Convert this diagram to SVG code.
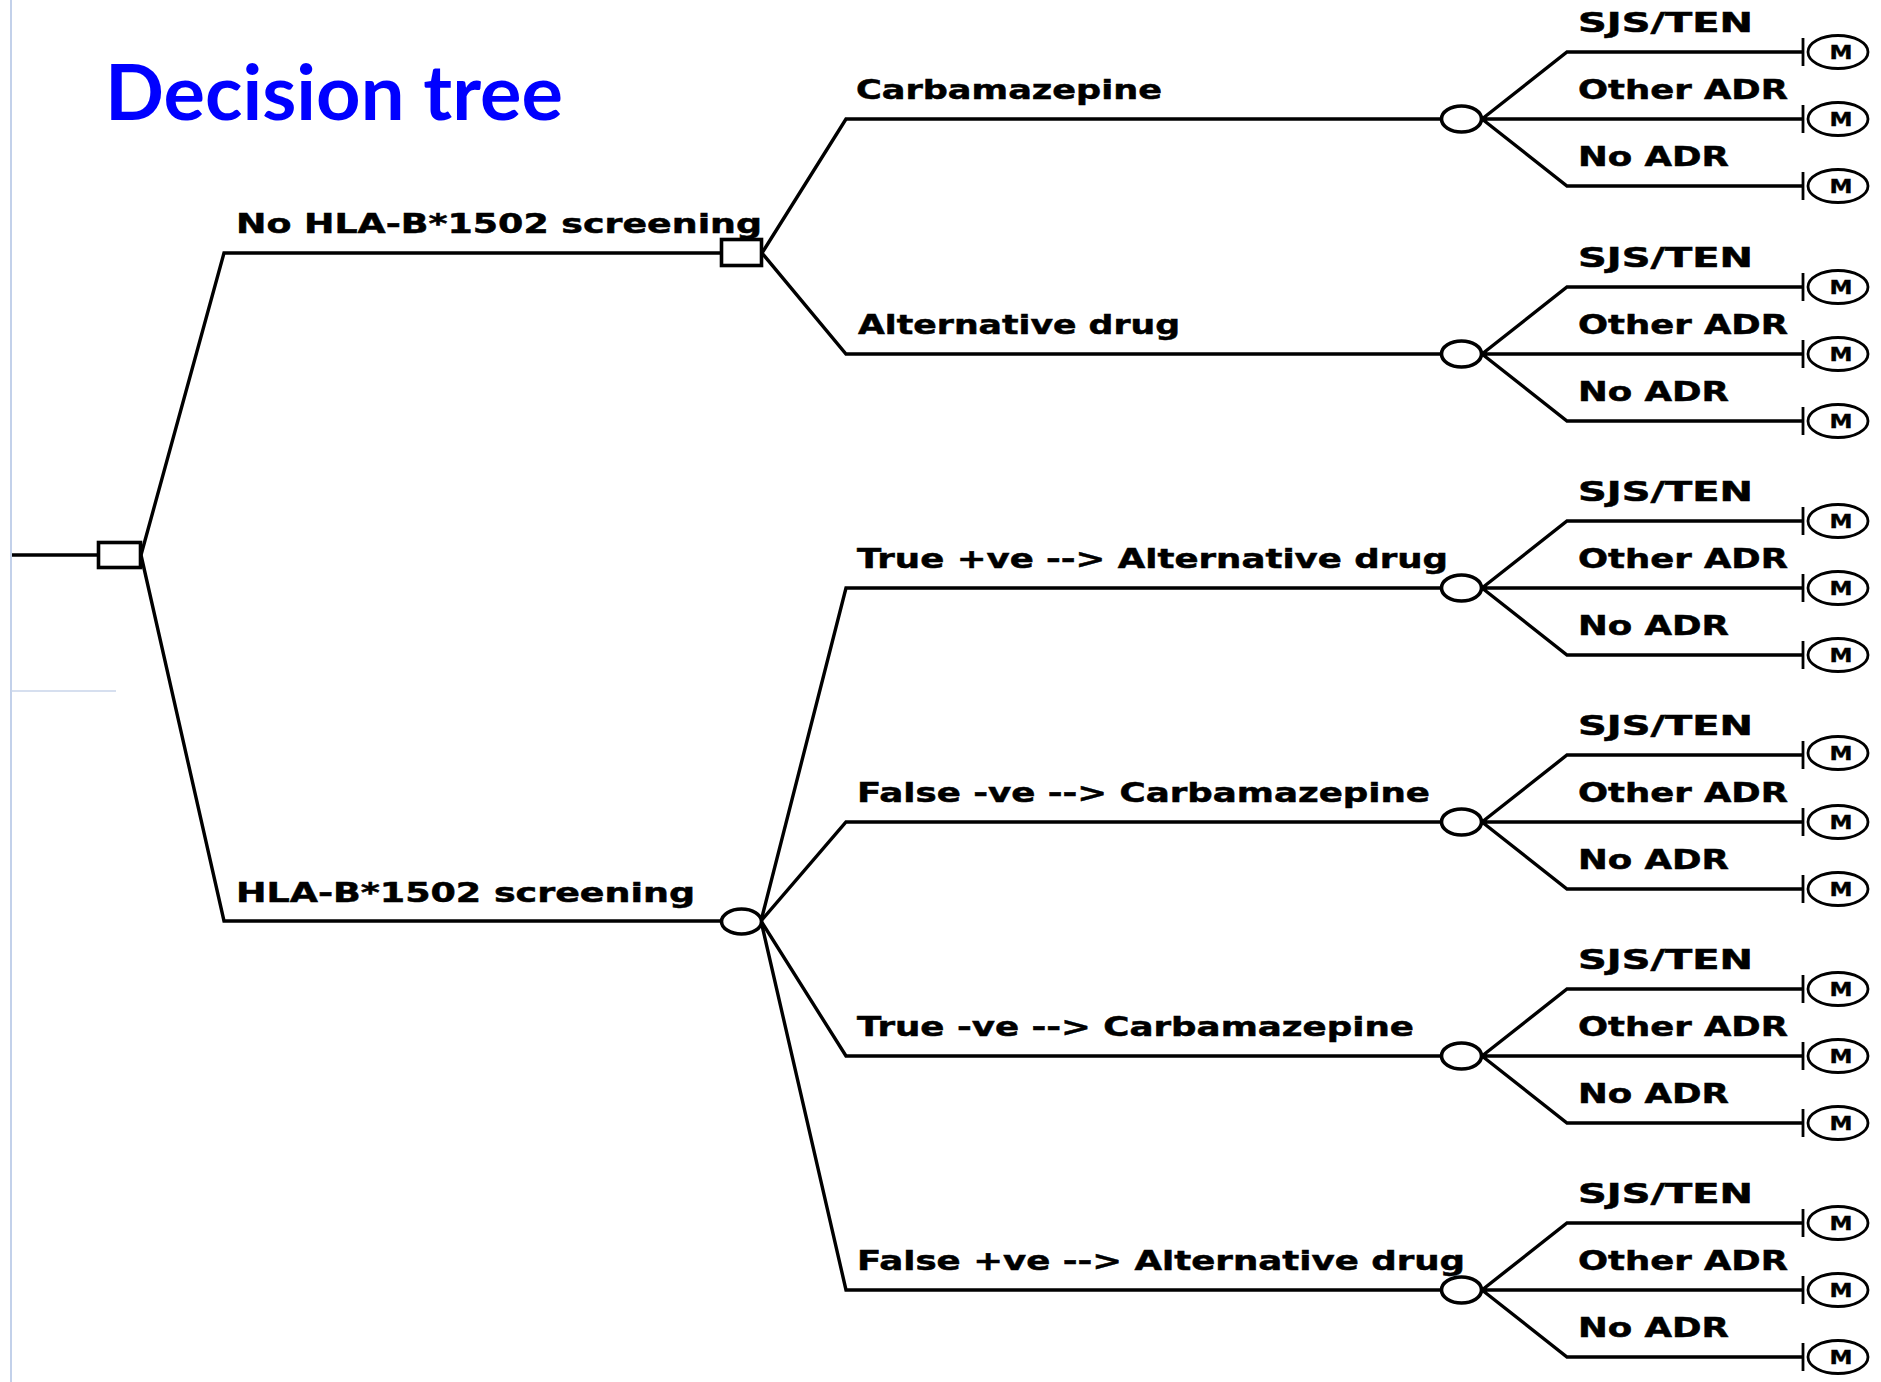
<svg xmlns="http://www.w3.org/2000/svg" width="1881" height="1382" viewBox="0 0 1881 1382">
  <style>
    .ln { fill: none; stroke: #000; stroke-width: 3.4; stroke-linecap: butt; stroke-linejoin: miter; }
    .node { fill: #fff; stroke: #000; stroke-width: 3.6; }
    .tick { stroke: #000; stroke-width: 2.8; }
    .term { fill: #fff; stroke: #000; stroke-width: 2.8; }
    .lbl { font-family: "DejaVu Sans", Verdana, sans-serif; font-weight: bold; font-size: 27px; fill: #000; stroke: #000; stroke-width: 0.5; }
    .out { font-family: "DejaVu Sans", Verdana, sans-serif; font-weight: bold; font-size: 26px; fill: #000; stroke: #000; stroke-width: 0.5; }
    .m { font-family: "DejaVu Sans", Verdana, sans-serif; font-weight: bold; font-size: 19px; fill: #000; text-anchor: middle; stroke: #000; stroke-width: 0.4; }
    .title { font-family: Lato, "Open Sans", sans-serif; font-weight: bold; font-size: 76px; fill: #0000ff; }
  </style>

  <rect width="1881" height="1382" fill="#fff"/>

  <!-- slide frame -->
  <g id="frame">
    <line x1="11" y1="0" x2="11" y2="1382" stroke="#c3d1ea" stroke-width="2"/>
    <line x1="11" y1="691" x2="116" y2="691" stroke="#c9d5ea" stroke-width="1.5"/>
  </g>

  <text id="title" class="title" x="105" y="120" textLength="458" lengthAdjust="spacingAndGlyphs">Decision tree</text>

  <!-- branches -->
  <g id="connectors" class="ln">
    <path d="M12 555 H98"/>
    <path d="M141 555 L224 253 H721"/>
    <path d="M141 555 L224 921 H721"/>
    <path d="M762 253 L846 119 H1441"/>
    <path d="M762 253 L846 354 H1441"/>
    <path d="M761 921 L846 588 H1441"/>
    <path d="M761 921 L846 822 H1441"/>
    <path d="M761 921 L846 1056 H1441"/>
    <path d="M761 921 L846 1290 H1441"/>

    <path d="M1482 119 L1567 52 H1803 M1482 119 H1803 M1482 119 L1567 186 H1803"/>
    <path d="M1482 354 L1567 287 H1803 M1482 354 H1803 M1482 354 L1567 421 H1803"/>
    <path d="M1482 588 L1567 521 H1803 M1482 588 H1803 M1482 588 L1567 655 H1803"/>
    <path d="M1482 822 L1567 755 H1803 M1482 822 H1803 M1482 822 L1567 889 H1803"/>
    <path d="M1482 1056 L1567 989 H1803 M1482 1056 H1803 M1482 1056 L1567 1123 H1803"/>
    <path d="M1482 1290 L1567 1223 H1803 M1482 1290 H1803 M1482 1290 L1567 1357 H1803"/>
  </g>

  <!-- branch labels -->
  <g id="branch-labels">
    <text class="lbl" x="236" y="233" textLength="526" lengthAdjust="spacingAndGlyphs">No HLA-B*1502 screening</text>
    <text class="lbl" x="236" y="902" textLength="459" lengthAdjust="spacingAndGlyphs">HLA-B*1502 screening</text>
    <text class="lbl" x="856" y="99" textLength="306" lengthAdjust="spacingAndGlyphs">Carbamazepine</text>
    <text class="lbl" x="858" y="334" textLength="322" lengthAdjust="spacingAndGlyphs">Alternative drug</text>
    <text class="lbl" x="857" y="568" textLength="591" lengthAdjust="spacingAndGlyphs">True +ve --&gt; Alternative drug</text>
    <text class="lbl" x="857" y="802" textLength="573" lengthAdjust="spacingAndGlyphs">False -ve --&gt; Carbamazepine</text>
    <text class="lbl" x="857" y="1036" textLength="557" lengthAdjust="spacingAndGlyphs">True -ve --&gt; Carbamazepine</text>
    <text class="lbl" x="857" y="1270" textLength="608" lengthAdjust="spacingAndGlyphs">False +ve --&gt; Alternative drug</text>

    <g id="outcome-labels-1">
      <text class="out" x="1578" y="32" textLength="175" lengthAdjust="spacingAndGlyphs">SJS/TEN</text>
      <text class="out" x="1578" y="99" textLength="210" lengthAdjust="spacingAndGlyphs">Other ADR</text>
      <text class="out" x="1578" y="166" textLength="151" lengthAdjust="spacingAndGlyphs">No ADR</text>
    </g>
    <g id="outcome-labels-2">
      <text class="out" x="1578" y="267" textLength="175" lengthAdjust="spacingAndGlyphs">SJS/TEN</text>
      <text class="out" x="1578" y="334" textLength="210" lengthAdjust="spacingAndGlyphs">Other ADR</text>
      <text class="out" x="1578" y="401" textLength="151" lengthAdjust="spacingAndGlyphs">No ADR</text>
    </g>
    <g id="outcome-labels-3">
      <text class="out" x="1578" y="501" textLength="175" lengthAdjust="spacingAndGlyphs">SJS/TEN</text>
      <text class="out" x="1578" y="568" textLength="210" lengthAdjust="spacingAndGlyphs">Other ADR</text>
      <text class="out" x="1578" y="635" textLength="151" lengthAdjust="spacingAndGlyphs">No ADR</text>
    </g>
    <g id="outcome-labels-4">
      <text class="out" x="1578" y="735" textLength="175" lengthAdjust="spacingAndGlyphs">SJS/TEN</text>
      <text class="out" x="1578" y="802" textLength="210" lengthAdjust="spacingAndGlyphs">Other ADR</text>
      <text class="out" x="1578" y="869" textLength="151" lengthAdjust="spacingAndGlyphs">No ADR</text>
    </g>
    <g id="outcome-labels-5">
      <text class="out" x="1578" y="969" textLength="175" lengthAdjust="spacingAndGlyphs">SJS/TEN</text>
      <text class="out" x="1578" y="1036" textLength="210" lengthAdjust="spacingAndGlyphs">Other ADR</text>
      <text class="out" x="1578" y="1103" textLength="151" lengthAdjust="spacingAndGlyphs">No ADR</text>
    </g>
    <g id="outcome-labels-6">
      <text class="out" x="1578" y="1203" textLength="175" lengthAdjust="spacingAndGlyphs">SJS/TEN</text>
      <text class="out" x="1578" y="1270" textLength="210" lengthAdjust="spacingAndGlyphs">Other ADR</text>
      <text class="out" x="1578" y="1337" textLength="151" lengthAdjust="spacingAndGlyphs">No ADR</text>
    </g>
  </g>

  <!-- decision nodes -->
  <g id="decision-root"><rect class="node" x="98.5" y="542.5" width="42" height="25"/></g>
  <g id="decision-no-screening"><rect class="node" x="721.5" y="239.5" width="40" height="26"/></g>

  <!-- chance nodes -->
  <g id="chance-screening"><ellipse class="node" cx="741.5" cy="921.5" rx="20" ry="12.5"/></g>
  <g id="chance-carbamazepine"><ellipse class="node" cx="1461.5" cy="119" rx="20" ry="13"/></g>
  <g id="chance-alternative"><ellipse class="node" cx="1461.5" cy="354" rx="20" ry="13"/></g>
  <g id="chance-true-pos"><ellipse class="node" cx="1461.5" cy="588" rx="20" ry="13"/></g>
  <g id="chance-false-neg"><ellipse class="node" cx="1461.5" cy="822" rx="20" ry="13"/></g>
  <g id="chance-true-neg"><ellipse class="node" cx="1461.5" cy="1056" rx="20" ry="13"/></g>
  <g id="chance-false-pos"><ellipse class="node" cx="1461.5" cy="1290" rx="20" ry="13"/></g>

  <!-- terminal (Markov) nodes -->
  <g id="terminals">
    <g id="t1-sjs" transform="translate(1838,52)"><line class="tick" x1="-35" y1="-14" x2="-35" y2="14"/><ellipse class="term" rx="30" ry="16.5"/><text class="m" x="3" y="7" textLength="23" lengthAdjust="spacingAndGlyphs">M</text></g>
    <g id="t1-other" transform="translate(1838,119)"><line class="tick" x1="-35" y1="-14" x2="-35" y2="14"/><ellipse class="term" rx="30" ry="16.5"/><text class="m" x="3" y="7" textLength="23" lengthAdjust="spacingAndGlyphs">M</text></g>
    <g id="t1-none" transform="translate(1838,186)"><line class="tick" x1="-35" y1="-14" x2="-35" y2="14"/><ellipse class="term" rx="30" ry="16.5"/><text class="m" x="3" y="7" textLength="23" lengthAdjust="spacingAndGlyphs">M</text></g>

    <g id="t2-sjs" transform="translate(1838,287)"><line class="tick" x1="-35" y1="-14" x2="-35" y2="14"/><ellipse class="term" rx="30" ry="16.5"/><text class="m" x="3" y="7" textLength="23" lengthAdjust="spacingAndGlyphs">M</text></g>
    <g id="t2-other" transform="translate(1838,354)"><line class="tick" x1="-35" y1="-14" x2="-35" y2="14"/><ellipse class="term" rx="30" ry="16.5"/><text class="m" x="3" y="7" textLength="23" lengthAdjust="spacingAndGlyphs">M</text></g>
    <g id="t2-none" transform="translate(1838,421)"><line class="tick" x1="-35" y1="-14" x2="-35" y2="14"/><ellipse class="term" rx="30" ry="16.5"/><text class="m" x="3" y="7" textLength="23" lengthAdjust="spacingAndGlyphs">M</text></g>

    <g id="t3-sjs" transform="translate(1838,521)"><line class="tick" x1="-35" y1="-14" x2="-35" y2="14"/><ellipse class="term" rx="30" ry="16.5"/><text class="m" x="3" y="7" textLength="23" lengthAdjust="spacingAndGlyphs">M</text></g>
    <g id="t3-other" transform="translate(1838,588)"><line class="tick" x1="-35" y1="-14" x2="-35" y2="14"/><ellipse class="term" rx="30" ry="16.5"/><text class="m" x="3" y="7" textLength="23" lengthAdjust="spacingAndGlyphs">M</text></g>
    <g id="t3-none" transform="translate(1838,655)"><line class="tick" x1="-35" y1="-14" x2="-35" y2="14"/><ellipse class="term" rx="30" ry="16.5"/><text class="m" x="3" y="7" textLength="23" lengthAdjust="spacingAndGlyphs">M</text></g>

    <g id="t4-sjs" transform="translate(1838,753)"><line class="tick" x1="-35" y1="-12" x2="-35" y2="16"/><ellipse class="term" rx="30" ry="16.5"/><text class="m" x="3" y="7" textLength="23" lengthAdjust="spacingAndGlyphs">M</text></g>
    <g id="t4-other" transform="translate(1838,822)"><line class="tick" x1="-35" y1="-14" x2="-35" y2="14"/><ellipse class="term" rx="30" ry="16.5"/><text class="m" x="3" y="7" textLength="23" lengthAdjust="spacingAndGlyphs">M</text></g>
    <g id="t4-none" transform="translate(1838,889)"><line class="tick" x1="-35" y1="-14" x2="-35" y2="14"/><ellipse class="term" rx="30" ry="16.5"/><text class="m" x="3" y="7" textLength="23" lengthAdjust="spacingAndGlyphs">M</text></g>

    <g id="t5-sjs" transform="translate(1838,989)"><line class="tick" x1="-35" y1="-14" x2="-35" y2="14"/><ellipse class="term" rx="30" ry="16.5"/><text class="m" x="3" y="7" textLength="23" lengthAdjust="spacingAndGlyphs">M</text></g>
    <g id="t5-other" transform="translate(1838,1056)"><line class="tick" x1="-35" y1="-14" x2="-35" y2="14"/><ellipse class="term" rx="30" ry="16.5"/><text class="m" x="3" y="7" textLength="23" lengthAdjust="spacingAndGlyphs">M</text></g>
    <g id="t5-none" transform="translate(1838,1123)"><line class="tick" x1="-35" y1="-14" x2="-35" y2="14"/><ellipse class="term" rx="30" ry="16.5"/><text class="m" x="3" y="7" textLength="23" lengthAdjust="spacingAndGlyphs">M</text></g>

    <g id="t6-sjs" transform="translate(1838,1223)"><line class="tick" x1="-35" y1="-14" x2="-35" y2="14"/><ellipse class="term" rx="30" ry="16.5"/><text class="m" x="3" y="7" textLength="23" lengthAdjust="spacingAndGlyphs">M</text></g>
    <g id="t6-other" transform="translate(1838,1290)"><line class="tick" x1="-35" y1="-14" x2="-35" y2="14"/><ellipse class="term" rx="30" ry="16.5"/><text class="m" x="3" y="7" textLength="23" lengthAdjust="spacingAndGlyphs">M</text></g>
    <g id="t6-none" transform="translate(1838,1357)"><line class="tick" x1="-35" y1="-14" x2="-35" y2="14"/><ellipse class="term" rx="30" ry="16.5"/><text class="m" x="3" y="7" textLength="23" lengthAdjust="spacingAndGlyphs">M</text></g>
  </g>
</svg>
